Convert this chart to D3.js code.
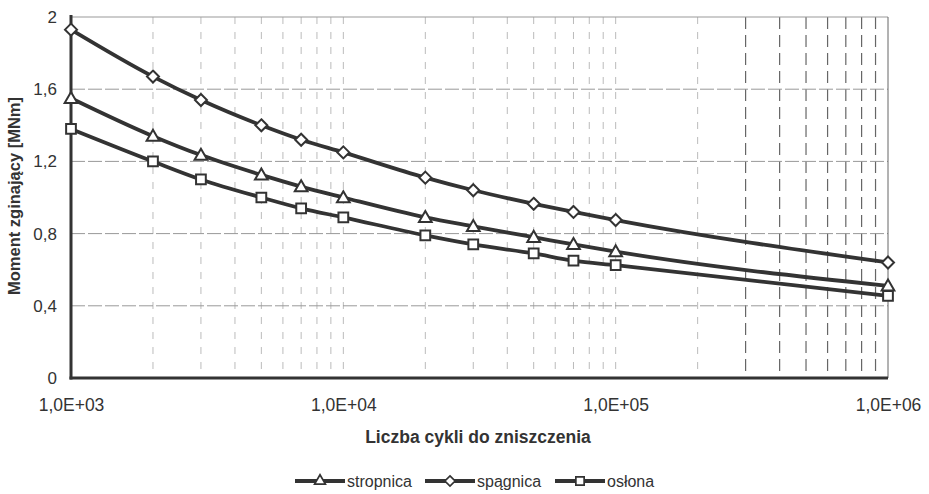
<!DOCTYPE html>
<html><head><meta charset="utf-8">
<script src="https://cdn.jsdelivr.net/npm/d3@7"></script>
<style>body{margin:0;background:#fff}svg{display:block}text{font-family:Arial,"Liberation Sans",sans-serif;fill:#333}</style>
</head><body><svg id="c" width="929" height="494"></svg>
<script>
const cycles = [1000, 2000, 3000, 5000, 7000, 10000, 20000, 30000, 50000, 70000, 100000, 1000000];
const stropnica = [1.55, 1.34, 1.235, 1.125, 1.06, 1.0, 0.89, 0.84, 0.78, 0.74, 0.70, 0.51];
const spagnica  = [1.93, 1.67, 1.54, 1.40, 1.32, 1.25, 1.11, 1.04, 0.965, 0.92, 0.875, 0.64];
const oslona    = [1.38, 1.20, 1.10, 1.00, 0.94, 0.89, 0.79, 0.74, 0.69, 0.65, 0.625, 0.455];
const seriesNames = ["stropnica", "spągnica", "osłona"];
const xTickLabels = ["1,0E+03", "1,0E+04", "1,0E+05", "1,0E+06"];
const yTicks = [0, 0.4, 0.8, 1.2, 1.6, 2];

const svg = d3.select("#c");
const L = 71, R = 888, T = 17, B = 378;
const x = d3.scaleLog().domain([1000, 1000000]).range([L, R]);
const y = d3.scaleLinear().domain([0, 2]).range([B, T]);
const ink = "#333";

// grid
const minor = [];
for (let d = 1000; d < 1000000; d *= 10) for (let k = 2; k <= 9; k++) minor.push(d * k);
const g = svg.append("g");
g.selectAll(".vm").data(minor.concat([10000, 100000])).enter().append("line")
  .attr("x1", d => x(d)).attr("x2", d => x(d)).attr("y1", T).attr("y2", B)
  .attr("stroke", d => d > 200000 ? "#666" : "#bbb").attr("stroke-width", d => d > 200000 ? 1.2 : 1)
  .attr("stroke-dasharray", d => d > 200000 ? "12,6" : "7,8");
g.selectAll(".hg").data(yTicks.slice(1)).enter().append("line")
  .attr("x1", L).attr("x2", R).attr("y1", d => y(d)).attr("y2", d => y(d))
  .attr("stroke", "#999").attr("stroke-width", 1).attr("stroke-dasharray", d => d === 2 ? null : "14,3");
g.append("line").attr("x1", R).attr("x2", R).attr("y1", T).attr("y2", B).attr("stroke", "#666");

// axes
const xAxis = d3.axisBottom(x).tickValues([1000, 10000, 100000, 1000000])
  .tickFormat((d, i) => xTickLabels[i]).tickSize(0).tickPadding(21);
const xa = svg.append("g").attr("transform", `translate(0,${B})`).call(xAxis);
xa.select(".domain").remove();
xa.selectAll("text").attr("font-size", 17.5).style("font-size", "17.5px").attr("fill", ink);
const yAxis = d3.axisLeft(y).tickValues(yTicks).tickFormat(d => String(d).replace(".", ",")).tickSize(0).tickPadding(14);
const ya = svg.append("g").attr("transform", `translate(${L},0)`).call(yAxis);
ya.select(".domain").remove();
ya.selectAll("text").attr("font-size", 17).style("font-size", "17px").attr("fill", ink);

svg.append("line").attr("x1", L).attr("x2", L).attr("y1", T - 2).attr("y2", B + 1.5).attr("stroke", ink).attr("stroke-width", 3);
svg.append("line").attr("x1", L - 1.5).attr("x2", R).attr("y1", B).attr("y2", B).attr("stroke", ink).attr("stroke-width", 3);

// titles
svg.append("text").attr("x", 478).attr("y", 443).attr("text-anchor", "middle")
  .style("font-size", "17.5px").style("font-weight", "bold").text("Liczba cykli do zniszczenia");
svg.append("text").attr("transform", "translate(20,196) rotate(-90)").attr("text-anchor", "middle")
  .style("font-size", "16.5px").style("font-weight", "bold").text("Moment zginający [MNm]");

// series
const data = [stropnica, spagnica, oslona];
const shapes = [d3.symbolTriangle, d3.symbolDiamond, d3.symbolSquare];
const sizes = [70, 70, 95];
const line = d3.line().x((d, i) => x(cycles[i])).y(d => y(d)).curve(d3.curveMonotoneX);
const markerPath = (k) => {
  if (k === 1) return "M0,-6L6,0L0,6L-6,0Z";
  return d3.symbol().type(shapes[k]).size(sizes[k])();
};
data.forEach((vals, k) => {
  svg.append("path").attr("d", line(vals)).attr("fill", "none").attr("stroke", ink).attr("stroke-width", 3.8);
  svg.selectAll(".m" + k).data(vals).enter().append("path")
    .attr("transform", (d, i) => `translate(${x(cycles[i])},${y(d) + (k === 0 ? 1 : 0)})`)
    .attr("d", markerPath(k)).attr("fill", "#fff").attr("stroke", ink).attr("stroke-width", 2);
});

// legend
const legX = [295, 425, 555];
seriesNames.forEach((n, k) => {
  const lg = svg.append("g").attr("transform", `translate(${legX[k]},485)`);
  lg.append("line").attr("x1", 0).attr("x2", 50).attr("y1", -4).attr("y2", -4).attr("stroke", ink).attr("stroke-width", 3.8);
  lg.append("path").attr("transform", "translate(25,-4) scale(0.85)").attr("d", markerPath(k))
    .attr("fill", "#fff").attr("stroke", ink).attr("stroke-width", 2);
  lg.append("text").attr("x", 52).attr("y", 2).style("font-size", "16px").text(n);
});
</script></body></html>
